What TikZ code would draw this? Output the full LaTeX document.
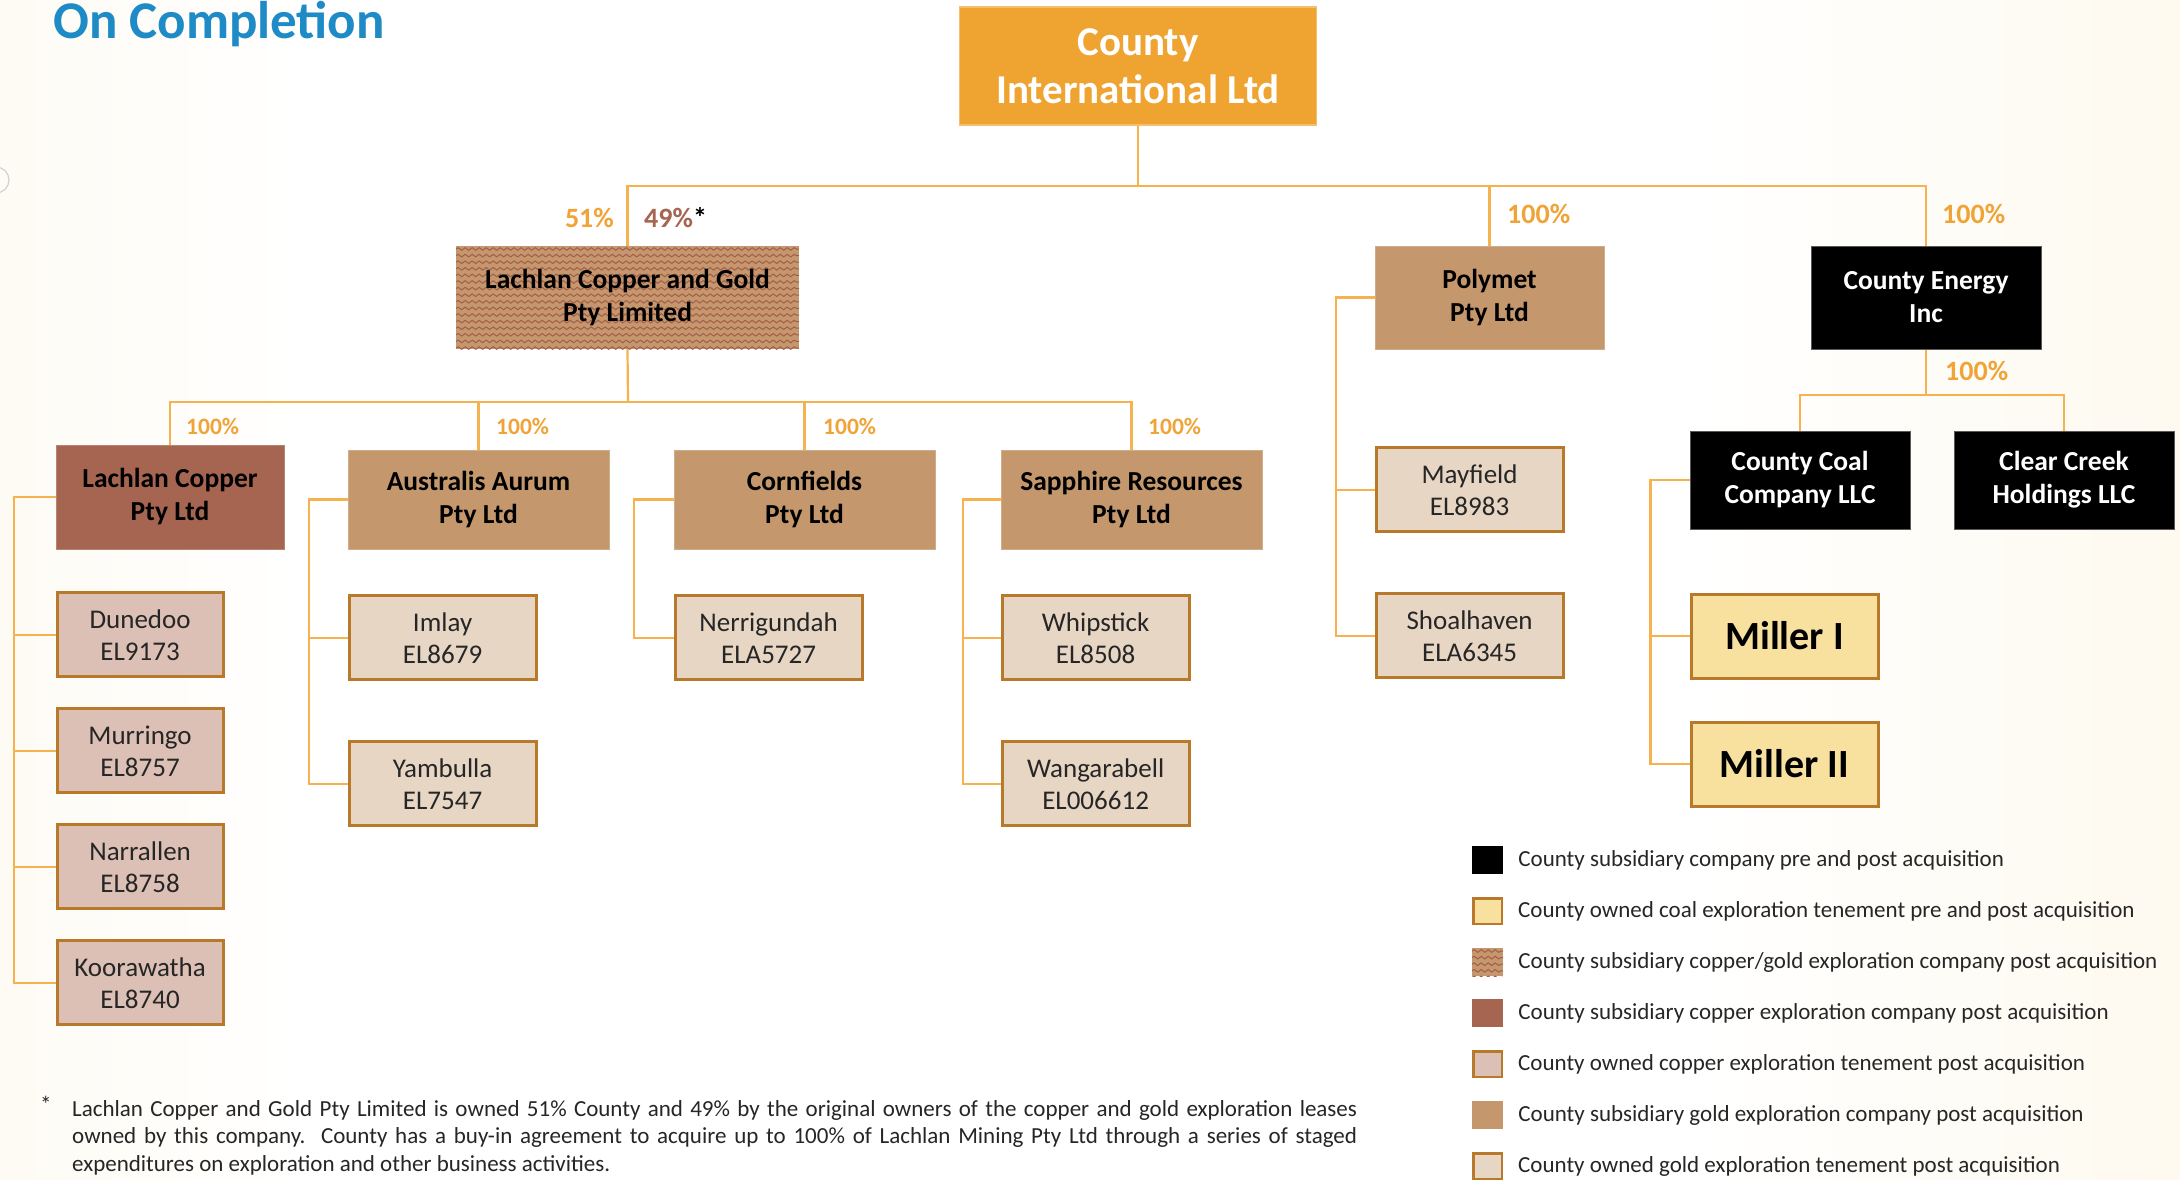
\documentclass[tikz,border=0pt]{standalone}
\usepackage{fontspec}
\setmainfont{Carlito}
\usepackage{tikz}
\usetikzlibrary{positioning,decorations.pathmorphing}
\definecolor{bgcream}{RGB}{251,237,205}
\definecolor{titleblue}{RGB}{30,139,198}
\definecolor{countyorange}{RGB}{239,163,49}
\definecolor{linkorange}{RGB}{245,178,78}
\definecolor{pctorange}{RGB}{240,163,54}
\definecolor{pctbrown}{RGB}{166,101,80}
\definecolor{coppercol}{RGB}{165,101,80}
\definecolor{goldcol}{RGB}{196,151,108}
\definecolor{wavecol}{RGB}{166,92,76}
\definecolor{cutenecol}{RGB}{221,192,181}
\definecolor{autenecol}{RGB}{232,214,196}
\definecolor{coaltenecol}{RGB}{248,225,159}
\definecolor{teneedge}{RGB}{184,122,42}
\definecolor{notegray}{RGB}{38,38,38}
\pgfdeclarehorizontalshading{pagebg}{100bp}{color(0bp)=(bgcream); color(32bp)=(white); color(64bp)=(white); color(100bp)=(bgcream)}
\tikzstyle{title} = [anchor=base west, inner sep=0pt, text=titleblue, font=\bfseries\fontsize{53}{60}\selectfont]
\tikzstyle{topco} = [rectangle, fill=countyorange, draw=countyorange!70!white, line width=1.5pt, text=white, align=center, inner sep=0pt, minimum width=357pt, minimum height=118pt, font=\bfseries\fontsize{41}{48}\selectfont]
\tikzstyle{company} = [rectangle, align=center, inner sep=0pt, minimum height=99pt, text=black, font=\bfseries\fontsize{27.5}{33}\selectfont]
\tikzstyle{wavefill} = [fill=goldcol, path picture={
    \foreach \k in {0,...,16}
      \draw[wavecol, line width=1pt, decorate, decoration={snake, amplitude=1.3pt, segment length=7pt}]
        ([yshift=-\k*6.6pt-3pt]path picture bounding box.north west) -- ([yshift=-\k*6.6pt-3pt]path picture bounding box.north east);}]
\tikzstyle{lcgbox} = [company, wavefill, minimum width=343pt, minimum height=103pt]
\tikzstyle{goldbox} = [company, fill=goldcol, draw=goldcol!80!white, line width=0.8pt, minimum width=261pt]
\tikzstyle{copperbox} = [company, fill=coppercol, draw=coppercol!80!white, line width=0.8pt]
\tikzstyle{blackbox} = [company, fill=black, draw=black!65, line width=1pt, text=white]
\tikzstyle{tenement} = [rectangle, draw=teneedge, line width=3pt, align=center, inner sep=0pt, minimum height=84pt, text=notegray, font=\fontsize{27}{32}\selectfont]
\tikzstyle{cutene} = [tenement, fill=cutenecol, minimum width=166pt]
\tikzstyle{autene} = [tenement, fill=autenecol, minimum width=187pt]
\tikzstyle{coaltene} = [tenement, fill=coaltenecol, minimum width=187pt, text=black, font=\bfseries\fontsize{40}{46}\selectfont]
\tikzstyle{pct} = [anchor=west, inner sep=0pt, text=pctorange, font=\bfseries\fontsize{28}{32}\selectfont]
\tikzstyle{pctsmall} = [pct, font=\bfseries\fontsize{23.5}{28}\selectfont]
\tikzstyle{link} = [draw=linkorange, line width=2.2pt]
\tikzstyle{keybox} = [rectangle, inner sep=0pt, minimum width=31pt, minimum height=28pt]
\tikzstyle{keyblack} = [keybox, fill=black]
\tikzstyle{keycoal} = [keybox, fill=coaltenecol, draw=teneedge, line width=2.5pt, minimum width=28.5pt, minimum height=25.5pt]
\tikzstyle{keywave} = [keybox, wavefill]
\tikzstyle{keycopper} = [keybox, fill=coppercol]
\tikzstyle{keycutene} = [keycoal, fill=cutenecol]
\tikzstyle{keygold} = [keybox, fill=goldcol]
\tikzstyle{keyautene} = [keycoal, fill=autenecol]
\tikzstyle{legtext} = [anchor=west, inner sep=0pt, text=notegray, font=\fontsize{23}{27}\selectfont]
\tikzstyle{note} = [inner sep=0pt, text=notegray, font=\fontsize{23}{27.6}\selectfont]

\begin{document}
\begin{tikzpicture}[x=1pt, y=-1pt]

\useasboundingbox (0,0) rectangle (2180,1179);
\shade[shading=pagebg] (0,0) rectangle (2180,1179);
\draw[black!18, line width=1.2pt] (-4,180) circle (13pt);

\node[title] (title) at (53,38) {On Completion};

% top level =============================
\node[topco] (intl) at (1138,66) {County\\International Ltd};

\node[lcgbox] (lcg) at (627.5,297.5) {Lachlan Copper and Gold\\Pty Limited};
\node[goldbox, minimum width=229pt, minimum height=103pt] (polymet) at (1489.5,297.5) {Polymet\\Pty Ltd};
\node[blackbox, minimum width=230pt, minimum height=103pt] (energy) at (1926,297.5) {County Energy\\Inc};

\node[pct, anchor=east] (p51) at (614,218) {51\%};
\node[pct] (p49) at (644,218) {\textcolor{pctbrown}{49\%}\textcolor{black}{*}};
\node[pct] (ppolymet) at (1507,214) {100\%};
\node[pct] (penergy) at (1942,214) {100\%};
\node[pct] (pcoal) at (1945,371) {100\%};

% lachlan subsidiaries =============================
\node[copperbox, minimum width=228pt, minimum height=104pt] (lcopper) at (170,497) {Lachlan Copper\\Pty Ltd};
\node[goldbox] (australis) at (478.5,499.5) {Australis Aurum\\Pty Ltd};
\node[goldbox] (cornfields) at (804.5,499.5) {Cornfields\\Pty Ltd};
\node[goldbox] (sapphire) at (1131.5,499.5) {Sapphire Resources\\Pty Ltd};

\node[pctsmall] (plcopper) at (186,426) {100\%};
\node[pctsmall] (paustralis) at (496,426) {100\%};
\node[pctsmall] (pcornfields) at (823,426) {100\%};
\node[pctsmall] (psapphire) at (1148,426) {100\%};

% energy subsidiaries
\node[blackbox, minimum width=220pt, minimum height=98pt] (coal) at (1800,480) {County Coal\\Company LLC};
\node[blackbox, minimum width=220pt, minimum height=98pt] (clearcreek) at (2064,480) {Clear Creek\\Holdings LLC};

% tenements =============================
\node[cutene, below=42pt of lcopper.south west, anchor=north west] (dunedoo) {Dunedoo\\EL9173};
\node[cutene, below=29pt of dunedoo] (murringo) {Murringo\\EL8757};
\node[cutene, below=29pt of murringo] (narrallen) {Narrallen\\EL8758};
\node[cutene, below=29pt of narrallen] (koorawatha) {Koorawatha\\EL8740};

\node[autene, below=45pt of australis.south west, anchor=north west] (imlay) {Imlay\\EL8679};
\node[autene, below=59pt of imlay] (yambulla) {Yambulla\\EL7547};
\node[autene, below=45pt of cornfields.south west, anchor=north west] (nerrigundah) {Nerrigundah\\ELA5727};
\node[autene, below=45pt of sapphire.south west, anchor=north west] (whipstick) {Whipstick\\EL8508};
\node[autene, below=59pt of whipstick] (wangarabell) {Wangarabell\\EL006612};
\node[autene, below=97pt of polymet.south west, anchor=north west] (mayfield) {Mayfield\\EL8983};
\node[autene, below=59pt of mayfield] (shoalhaven) {Shoalhaven\\ELA6345};
\node[coaltene, below=63pt of coal.south west, anchor=north west] (miller1) {Miller I};
\node[coaltene, below=41pt of miller1] (miller2) {Miller II};

% edges
\coordinate (jtop) at (1138,186);
\coordinate (jmid) at (628,402);
\coordinate (jenergy) at (1926,395);

\path[link] (intl.south) -- (jtop);
\path[link] (lcg.north) |- (jtop) -| (energy.north);
\path[link] (polymet.north) -- (polymet.north |- jtop);
\path[link] (lcg.south) -- (jmid);
\path[link] (lcopper.north) |- (jmid) -| (sapphire.north);
\path[link] (australis.north) -- (australis.north |- jmid);
\path[link] (cornfields.north) -- (cornfields.north |- jmid);
\path[link] (energy.south) -- (jenergy);
\path[link] (coal.north) |- (jenergy) -| (clearcreek.north);

\path[link] (lcopper.west) -- ++(-42,0) |- (koorawatha.west);
\foreach \t in {dunedoo,murringo,narrallen}
  \path[link] (\t.west) -- ++(-42,0);
\path[link] (australis.west) -- ++(-39,0) |- (yambulla.west);
\path[link] (imlay.west) -- ++(-39,0);
\path[link] (cornfields.west) -- ++(-40,0) |- (nerrigundah.west);
\path[link] (sapphire.west) -- ++(-38,0) |- (wangarabell.west);
\path[link] (whipstick.west) -- ++(-38,0);
\path[link] (polymet.west) -- ++(-39,0) |- (shoalhaven.west);
\path[link] (mayfield.west) -- ++(-39,0);
\path[link] (coal.west) -- ++(-39,0) |- (miller2.west);
\path[link] (miller1.west) -- ++(-39,0);

% legend
\foreach \st/\txt [count=\i from 0] in {
    keyblack/{County subsidiary company pre and post acquisition},
    keycoal/{County owned coal exploration tenement pre and post acquisition},
    keywave/{County subsidiary copper/gold exploration company post acquisition},
    keycopper/{County subsidiary copper exploration company post acquisition},
    keycutene/{County owned copper exploration tenement post acquisition},
    keygold/{County subsidiary gold exploration company post acquisition},
    keyautene/{County owned gold exploration tenement post acquisition}} {
  \node[\st] (key\i) at (1487.5,860+51*\i) {};
  \node[legtext, right=15pt of key\i.east] (keytext\i) {\txt};
}

% footnote
\node[note, anchor=base west] (star) at (40,1112) {*};
\node[note, anchor=base west, text width=1285pt, align=justify] (footnote) at (72,1116)
  {\noindent\hyphenpenalty=10000 Lachlan Copper and Gold Pty Limited is owned 51\% County and 49\% by the original owners of the copper and gold exploration leases\linebreak
   owned by this company.\ \ County has a buy-in agreement to acquire up to 100\% of Lachlan Mining Pty Ltd through a series of staged\linebreak
   expenditures on exploration and other business activities.};

\end{tikzpicture}
\end{document}
